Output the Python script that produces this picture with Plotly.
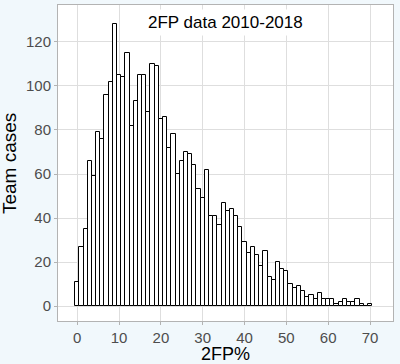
import plotly.graph_objects as go

# Histogram of 2FP% (bin width 1, bins centred on integers)
bins = list(range(0, 71))
counts = [11, 27, 35, 66, 59, 79, 76, 96, 102, 128,
          105, 104, 115, 82, 93, 105, 105, 88, 110, 109,
          85, 86, 72, 78, 60, 66, 70, 69, 64, 53,
          49, 62, 41, 41, 37, 47, 43, 44, 41, 36,
          29, 24, 27, 23, 18, 25, 13, 12, 20, 17,
          16, 10, 8, 9, 7, 4, 5, 3, 6, 3,
          3, 3, 1, 2, 3, 2, 2, 3, 1, 0,
          1]
x_ticks = [0, 10, 20, 30, 40, 50, 60, 70]
y_ticks = [0, 20, 40, 60, 80, 100, 120]
title_text = "2FP data 2010-2018"
x_title = "2FP%"
y_title = "Team cases"

FONT = "Liberation Sans, Arial, sans-serif"
GRID = "#DEDEDE"
LINE = "#B3B3B3"

fig = go.Figure()
fig.add_trace(go.Bar(
    x=bins, y=counts, width=1,
    marker=dict(color="white", line=dict(color="black", width=1)),
    hoverinfo="x+y",
))

fig.add_annotation(
    text=title_text, xref="paper", x=0.5, yref="y", y=129,
    showarrow=False, bgcolor="white", borderpad=3,
    font=dict(family=FONT, size=17, color="black"),
)
# axis titles placed as annotations (paper coords relative to plot area)
fig.add_annotation(
    text=x_title, xref="paper", x=0.5, yref="paper", y=-0.105,
    xanchor="center", yanchor="middle", showarrow=False, borderpad=0,
    font=dict(family=FONT, size=18, color="black"),
)
fig.add_annotation(
    text=y_title, xref="paper", x=-0.143, yref="paper", y=0.497,
    xanchor="center", yanchor="middle", textangle=-90, showarrow=False,
    font=dict(family=FONT, size=19, color="black"),
)

fig.update_layout(
    width=400, height=364,
    margin=dict(l=58, r=7, t=5, b=43, autoexpand=False),
    paper_bgcolor="#F1F8FC", plot_bgcolor="white",
    showlegend=False, bargap=0,
    font=dict(family=FONT),
)
fig.update_xaxes(
    range=[-4.6, 75.5], tickvals=x_ticks, showgrid=True, gridcolor=GRID, gridwidth=1,
    zeroline=False, showline=True, mirror=True, linecolor=LINE, linewidth=1,
    ticks="outside", ticklen=3, tickcolor=LINE, automargin=False,
    tickfont=dict(family=FONT, size=15, color="#4D4D4D"),
)
fig.update_yaxes(
    range=[-6.8, 136.8], tickvals=y_ticks, showgrid=True, gridcolor=GRID, gridwidth=1,
    zeroline=False, showline=True, mirror=True, linecolor=LINE, linewidth=1,
    ticks="outside", ticklen=3, tickcolor=LINE, automargin=False,
    tickfont=dict(family=FONT, size=15, color="#4D4D4D"),
)

fig.write_html(
    "out.html",
    config={"displayModeBar": False},
    post_script="document.body.style.margin='0';document.body.style.overflow='hidden';",
)
